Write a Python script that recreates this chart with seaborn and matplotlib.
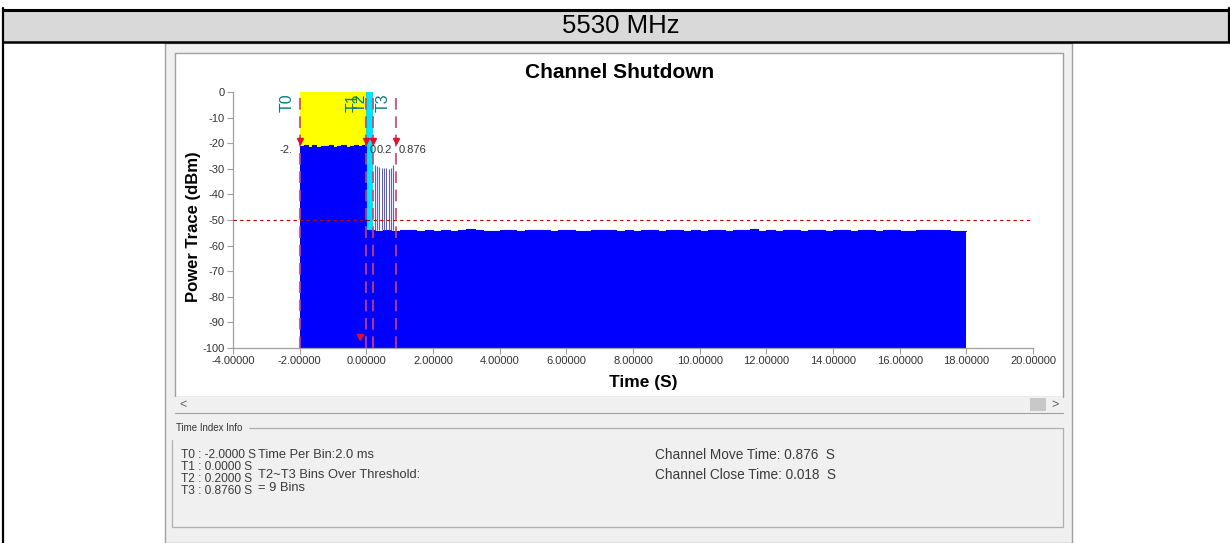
import numpy as np
import matplotlib
matplotlib.use("Agg")
import matplotlib.pyplot as plt
import seaborn as sns
from matplotlib.patches import Rectangle
from matplotlib.lines import Line2D

# marker times (s)
t_names = ["T0", "T1", "T2", "T3"]
t_times = [-2.0, 0.0, 0.2, 0.876]
t_value_labels = ["-2.", "0", "0.2", "0.876"]

# trace before T1 (-2 .. 0 s), one value per 0.125 s
pre_db = [-21.0, -20.6, -21.3, -20.8, -21.5, -20.9, -21.2, -20.7,
          -21.4, -20.9, -20.6, -21.3, -21.0, -20.8, -21.2, -20.7]
# trace after T1 (0 .. 18 s), one value per 0.25 s
post_db = [-54.0, -54.2, -53.9, -54.3, -54.1, -53.8, -54.2, -54.0,
           -54.3, -53.9, -54.4, -54.1, -53.4, -53.9, -54.2, -54.3,
           -53.8, -54.0, -54.2, -53.9, -54.1, -53.8, -54.3, -54.0,
           -53.9, -54.2, -54.4, -53.9, -54.1, -53.8, -54.2, -54.0,
           -54.3, -53.9, -54.1, -54.2, -53.8, -54.0, -54.3, -53.9,
           -54.2, -53.8, -54.1, -54.3, -53.9, -54.0, -53.5, -54.2,
           -53.9, -54.2, -54.0, -53.8, -54.3, -54.1, -53.9, -54.2,
           -54.0, -53.8, -54.2, -54.1, -53.9, -54.3, -54.0, -53.9,
           -54.2, -54.3, -53.9, -54.1, -53.8, -54.0, -54.2, -54.2]
# 9 bins over threshold between T2 and T3
spike_t = [0.25, 0.32, 0.39, 0.46, 0.53, 0.60, 0.67, 0.74, 0.81]
spike_db = [-28.5, -29.0, -29.3, -29.6, -29.8, -29.6, -29.9, -29.5, -28.6]

threshold = -50
xticks = [-4, -2, 0, 2, 4, 6, 8, 10, 12, 14, 16, 18, 20]
yticks = [0, -10, -20, -30, -40, -50, -60, -70, -80, -90, -100]

sns.set_theme(style="white")
plt.rcParams["font.family"] = ["Liberation Sans", "DejaVu Sans"]
plt.rcParams["axes.unicode_minus"] = False

W, H = 1230, 543
fig = plt.figure(figsize=(W / 100, H / 100), dpi=100)
fig.patch.set_facecolor("white")

def fx(x):
    return x / W

def fy(y):
    return 1 - y / H

def rect(x0, y0, x1, y1, **kw):
    kw.setdefault("zorder", -5)
    fig.add_artist(Rectangle((fx(x0), fy(y1)), (x1 - x0) / W, (y1 - y0) / H,
                             transform=fig.transFigure, **kw))

def hline(x0, x1, y, **kw):
    fig.add_artist(Line2D([fx(x0), fx(x1)], [fy(y), fy(y)], transform=fig.transFigure, **kw))

def vline(x, y0, y1, **kw):
    fig.add_artist(Line2D([fx(x), fx(x)], [fy(y0), fy(y1)], transform=fig.transFigure, **kw))

# table header
rect(3, 9, 1230, 42, facecolor="#d9d9d9", edgecolor="none")
hline(3, 1230, 9.5, color="black", lw=2.2)
hline(3, 1230, 42, color="black", lw=1.8)
vline(3, 8, 543, color="black", lw=1.6)
vline(1228.5, 8, 42, color="black", lw=1.6)
fig.text(fx(621), fy(26), "5530 MHz", ha="center", va="center", fontsize=18.5, color="black")

# screenshot panel
rect(165, 43, 1072, 543, facecolor="#f0f0f0", edgecolor="#a0a0a0", lw=1)
rect(175, 53, 1063, 397, facecolor="white", edgecolor="#a0a0a0", lw=1, zorder=-4)
rect(175, 397, 1063, 412, facecolor="#f0f0f0", edgecolor="none", zorder=-3)
rect(1030, 398, 1046, 411, facecolor="#c8c8c8", edgecolor="none", zorder=-2)
hline(175, 1063, 413, color="#a0a0a0", lw=0.8)
fig.text(fx(183), fy(405), "<", ha="center", va="center", fontsize=9, color="#606060")
fig.text(fx(1055), fy(405), ">", ha="center", va="center", fontsize=9, color="#606060")

# time index info group box
rect(172, 428, 1063, 527, facecolor="none", edgecolor="#b0b0b0", lw=0.9, zorder=-2)
fig.text(fx(176), fy(428), "Time Index Info", ha="left", va="center", fontsize=7,
         color="#333333", backgroundcolor="#f0f0f0")
info_col = "#3a3a3a"
left_lines = ["T0 : -2.0000 S", "T1 : 0.0000 S", "T2 : 0.2000 S", "T3 : 0.8760 S"]
for i, s in enumerate(left_lines):
    fig.text(fx(181), fy(455 + i * 12), s, ha="left", va="center", fontsize=8.6,
             color=info_col)
mid_items = [(258, 455, "Time Per Bin:2.0 ms"),
             (258, 475, "T2~T3 Bins Over Threshold:"),
             (258, 488, "= 9 Bins")]
for x, y, s in mid_items:
    fig.text(fx(x), fy(y), s, ha="left", va="center", fontsize=9.3, color=info_col)
right_items = [(655, 455, "Channel Move Time: 0.876  S"),
               (655, 475, "Channel Close Time: 0.018  S")]
for x, y, s in right_items:
    fig.text(fx(x), fy(y), s, ha="left", va="center", fontsize=9.8, color=info_col)

# plot axes
ax = fig.add_axes([fx(233), fy(348), 800 / W, 256 / H])
ax.set_facecolor("white")

pre_t = -2.0 + 0.125 * np.arange(len(pre_db))
post_t = 0.25 * np.arange(len(post_db))
tt = np.concatenate([pre_t, post_t, [18.0]])
yy = np.concatenate([pre_db, post_db, [post_db[-1]]])

ax.axvspan(t_times[0], t_times[1], color="#ffff00", zorder=0, lw=0)
ax.axvspan(t_times[1], t_times[2], color="#00e5ff", zorder=0, lw=0)
ax.fill_between(tt, yy, -100, step="post", color="#0000ff", lw=0, zorder=1)
sns.lineplot(x=tt, y=yy, drawstyle="steps-post", color="#0000ff", lw=0.8, ax=ax,
             estimator=None, sort=False, zorder=1)
ax.vlines(spike_t, -54, spike_db, color="#6060b8", lw=0.8, zorder=1)

ax.axhline(threshold, color="#c00000", lw=0.8, ls=(0, (3, 3)), zorder=3)
for name, t, lab in zip(t_names, t_times, t_value_labels):
    ax.vlines(t, -100, 0, color="#d0406a", lw=1.2, ls=(0, (7, 4)), zorder=3)
    ax.plot([t], [-19.3], marker="v", color="#e0102a", ms=4, zorder=4, clip_on=False)
    ax.text(t - 0.16, -0.5, name, rotation=90, ha="right", va="top", fontsize=11.5,
            color="#00808a", zorder=5)
    if name == "T0":
        ax.text(t - 0.2, -22.6, lab, ha="right", va="center", fontsize=8, color="#333333", zorder=5)
    else:
        ax.text(t + 0.1, -22.6, lab, ha="left", va="center", fontsize=8, color="#333333", zorder=5)
ax.plot([-0.19], [-95.7], marker="v", color="#e0102a", ms=4, zorder=4)

ax.set_xlim(-4, 20)
ax.set_ylim(-100, 0)
ax.set_xticks(xticks)
ax.set_xticklabels([f"{v:.5f}" for v in xticks])
ax.set_yticks(yticks)
ax.tick_params(axis="both", which="both", direction="out", length=4, width=0.8,
               color="#a0a0a0", labelsize=8, labelcolor="#333333", pad=2,
               bottom=True, left=True)
for side in ["top", "right"]:
    ax.spines[side].set_visible(False)
for side in ["left", "bottom"]:
    ax.spines[side].set_color("#a0a0a0")
    ax.spines[side].set_linewidth(0.9)

ax.set_xlabel("Time (S)", fontsize=12.5, fontweight="bold", color="black")
ax.xaxis.set_label_coords((643 - 233) / 800, -0.105)
ax.set_ylabel("Power Trace (dBm)", fontsize=12, fontweight="bold", color="black")
ax.yaxis.set_label_coords(-0.04, 0.473)
fig.text(fx(620), fy(72), "Channel Shutdown", ha="center", va="center", fontsize=15,
         fontweight="bold", color="black")

fig.savefig("out.png", dpi=100)
